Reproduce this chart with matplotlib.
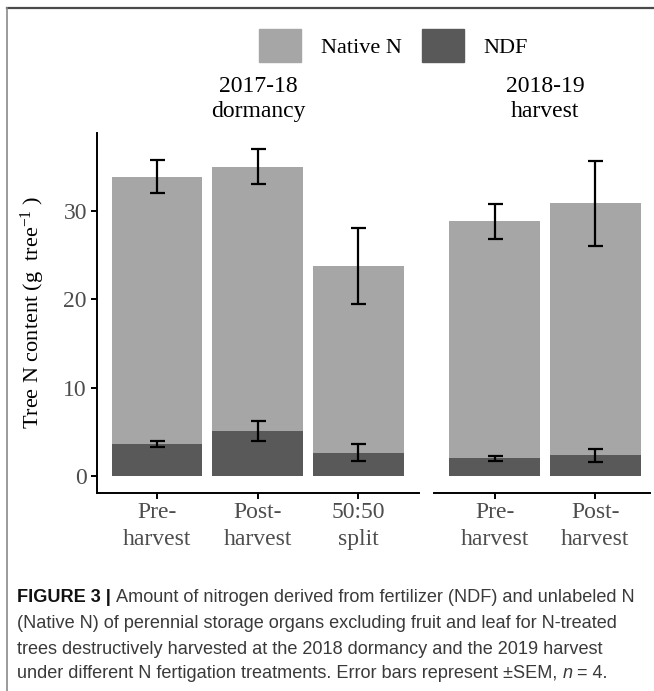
import matplotlib
matplotlib.use("Agg")
import matplotlib.pyplot as plt
from matplotlib.lines import Line2D
from matplotlib.patches import Patch
import numpy as np

# data (g N per tree)
labels_dorm = ["Pre-\nharvest", "Post-\nharvest", "50:50\nsplit"]
labels_harv = ["Pre-\nharvest", "Post-\nharvest"]
total_dorm = [33.8, 34.95, 23.73]
total_dorm_sem = [1.85, 1.95, 4.33]
ndf_dorm = [3.65, 5.1, 2.68]
ndf_dorm_sem = [0.37, 1.1, 0.92]
total_harv = [28.8, 30.8]
total_harv_sem = [1.98, 4.75]
ndf_harv = [2.02, 2.37]
ndf_harv_sem = [0.3, 0.73]
strips = ["2017-18\ndormancy", "2018-19\nharvest"]

c_native = "#A6A6A6"
c_ndf = "#595959"

plt.rcParams["font.family"] = ["Liberation Serif", "DejaVu Serif"]
plt.rcParams["mathtext.fontset"] = "custom"
plt.rcParams["mathtext.rm"] = "Liberation Serif"
plt.rcParams["mathtext.it"] = "Liberation Serif:italic"

W, H = 654, 691
fig = plt.figure(figsize=(W / 100, H / 100), dpi=100)

unit = 100.6  # px per category
y0, y1 = 133, 492.7
ax1 = fig.add_axes([96.7 / W, 1 - y1 / H, 3.2 * unit / W, (y1 - y0) / H])
ax2_left = 434.3
ax2 = fig.add_axes([ax2_left / W, 1 - y1 / H, (650 - ax2_left) / W, (y1 - y0) / H])


def draw(ax, labels, total, total_sem, ndf, ndf_sem):
    x = np.arange(1, len(labels) + 1)
    native = np.array(total) - np.array(ndf)
    ax.bar(x, ndf, width=0.9, color=c_ndf)
    ax.bar(x, native, bottom=ndf, width=0.9, color=c_native)
    ax.errorbar(x, total, yerr=total_sem, fmt="none", ecolor="black",
                elinewidth=1.6, capsize=5.4, capthick=1.6)
    ax.errorbar(x, ndf, yerr=ndf_sem, fmt="none", ecolor="black",
                elinewidth=1.6, capsize=5.4, capthick=1.6)
    ax.set_xticks(x)
    ax.set_xticklabels(labels, fontsize=17, color="#4D4D4D", linespacing=1.42)
    ax.set_ylim(-1.85, 38.75)
    for s in ["top", "right"]:
        ax.spines[s].set_visible(False)
    ax.spines["bottom"].set_linewidth(1.4)
    ax.spines["left"].set_linewidth(1.4)
    ax.tick_params(axis="x", length=4, width=1.4, pad=2.5)
    ax.tick_params(axis="y", length=4, width=1.4, pad=3, labelsize=17,
                   labelcolor="#4D4D4D")


draw(ax1, labels_dorm, total_dorm, total_dorm_sem, ndf_dorm, ndf_dorm_sem)
draw(ax2, labels_harv, total_harv, total_harv_sem, ndf_harv, ndf_harv_sem)
ax1.set_xlim(0.4, 3.6)
ax1.set_yticks([0, 10, 20, 30])
ax2.set_xlim(0.4, 0.4 + (650 - ax2_left) / unit)
ax2.spines["left"].set_visible(False)
ax2.set_yticks([])

fig.text(33 / W, 1 - 312 / H, r"Tree N content (g  tree$^{-1}$ )",
         rotation=90, ha="center", va="center", fontsize=16)

# facet strips
fig.text(258 / W, 1 - 99 / H, strips[0], ha="center", va="center",
         fontsize=17, linespacing=1.25)
fig.text(545 / W, 1 - 99 / H, strips[1], ha="center", va="center",
         fontsize=17, linespacing=1.25)

# legend
handles = [Patch(color=c_native), Patch(color=c_ndf)]
fig.legend(handles, ["Native N", "NDF"], ncol=2, frameon=False,
           loc="center", bbox_to_anchor=(393.5 / W, 1 - 45.5 / H),
           fontsize=16, handlelength=1.89, handleheight=1.94,
           handletextpad=0.9, columnspacing=0.9, borderpad=0)

# frame lines
fig.add_artist(Line2D([7 / W, 653 / W], [1 - 8 / H] * 2,
                      transform=fig.transFigure, color="#4a4a4a", lw=1.6))
fig.add_artist(Line2D([7 / W, 7 / W], [1 - 8 / H, 0],
                      transform=fig.transFigure, color="#8a8a8a", lw=1.2))

# caption
cap_font = ["Liberation Sans", "DejaVu Sans"]
cap_col = "#3a3a3a"
caption = [
    [("FIGURE 3 | ", "bold", "normal"),
     ("Amount of nitrogen derived from fertilizer (NDF) and unlabeled N", "normal", "normal")],
    [("(Native N) of perennial storage organs excluding fruit and leaf for N-treated", "normal", "normal")],
    [("trees destructively harvested at the 2018 dormancy and the 2019 harvest", "normal", "normal")],
    [("under different N fertigation treatments. Error bars represent \u00b1SEM, ", "normal", "normal"),
     ("n", "normal", "italic"), (" = 4.", "normal", "normal")],
]
cap_y = [598, 623, 649, 674]

renderer = fig.canvas.get_renderer()
# fit font size so that the first line spans the caption width
probe = fig.text(0, 0, "FIGURE 3 | Amount of nitrogen derived from fertilizer (NDF) and unlabeled N",
                 family=cap_font, fontsize=12)
wpx = probe.get_window_extent(renderer).width
probe.remove()
cap_size = 12 * (634 - 17) / wpx

inv = fig.transFigure.inverted()
for line, yy in zip(caption, cap_y):
    x = 17 / W
    for text, weight, style in line:
        t = fig.text(x, 1 - yy / H, text, family=cap_font, fontsize=cap_size,
                     fontweight=weight, fontstyle=style, va="center",
                     color="#111111" if weight == "bold" else cap_col)
        bb = t.get_window_extent(renderer)
        x = inv.transform((bb.x1, bb.y0))[0]

fig.savefig("out.png", dpi=100)
